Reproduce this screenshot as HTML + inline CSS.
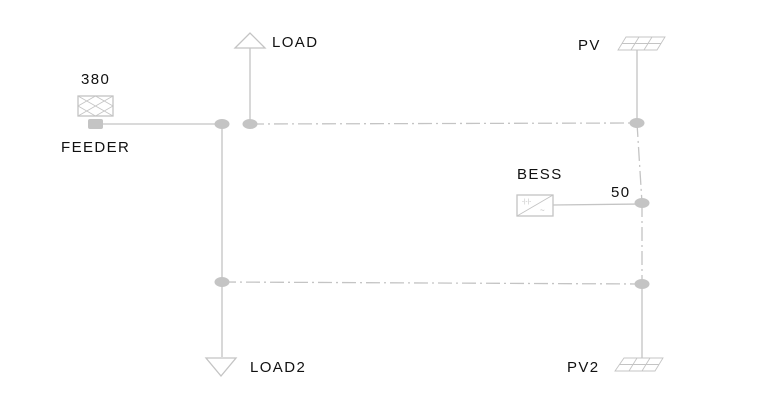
<!DOCTYPE html>
<html><head><meta charset="utf-8"><style>
html,body{margin:0;padding:0;background:#fff;}
svg{display:block;}
text{font-family:"Liberation Sans",sans-serif;font-size:15px;letter-spacing:1.4px;fill:#111;}
</style></head><body>
<svg width="758" height="410" viewBox="0 0 758 410" xmlns="http://www.w3.org/2000/svg">
<g stroke="#c4c4c4" stroke-width="1.3" fill="none">
  <rect x="78" y="96" width="35" height="20"/>
  <path d="M78 96 L113 116 M113 96 L78 116 M78 106 L95.5 96 L113 106 L95.5 116 Z" stroke-width="0.8"/>
  <line x1="103" y1="124" x2="222" y2="124"/>
  <line x1="222" y1="124" x2="222" y2="282"/>
  <line x1="222" y1="282" x2="222" y2="357"/>
  <line x1="250" y1="124" x2="250" y2="48"/>
  <path d="M235 48 L250 33 L265 48 Z" fill="#fff"/>
  <path d="M206 358 L236 358 L221 376 Z" fill="#fff"/>
  <g stroke-dasharray="14,4,2,4">
    <line x1="250" y1="124" x2="637" y2="123"/>
    <line x1="637" y1="123" x2="642" y2="203"/>
    <line x1="642" y1="203" x2="642" y2="284"/>
    <line x1="222" y1="282" x2="642" y2="284"/>
  </g>
  <line x1="637" y1="123" x2="637" y2="50"/>
  <path d="M626 37 L665 37 L657 50 L618 50 Z M622 43.5 L661 43.5 M639 37 L631 50 M652 37 L644 50" stroke-width="0.9"/>
  <line x1="642" y1="284" x2="642" y2="358"/>
  <path d="M624 358 L663 358 L655 371 L615 371 Z M619.5 364.5 L659 364.5 M637 358 L629 371 M650 358 L642 371" stroke-width="0.9"/>
  <rect x="517" y="195" width="36" height="21"/>
  <path d="M517 216 L553 195" stroke-width="0.9"/>
  <line x1="553" y1="205" x2="642" y2="204"/>
</g>
<text x="522" y="203" style="font-size:6px;letter-spacing:0;fill:#bbb">-|-|-</text>
<text x="540" y="213" style="font-size:8px;letter-spacing:0;fill:#bbb">~</text>
<g fill="#c4c4c4">
  <rect x="88" y="119" width="15" height="10" rx="2"/>
  <ellipse cx="222" cy="124" rx="7.5" ry="5"/>
  <ellipse cx="250" cy="124" rx="7.5" ry="5"/>
  <ellipse cx="637" cy="123" rx="7.5" ry="5"/>
  <ellipse cx="642" cy="203" rx="7.5" ry="5"/>
  <ellipse cx="222" cy="282" rx="7.5" ry="5"/>
  <ellipse cx="642" cy="284" rx="7.5" ry="5"/>
</g>
<text x="81" y="84">380</text>
<text x="61" y="152">FEEDER</text>
<text x="272" y="47">LOAD</text>
<text x="250" y="372">LOAD2</text>
<text x="578" y="50">PV</text>
<text x="567" y="372">PV2</text>
<text x="517" y="179">BESS</text>
<text x="611" y="197">50</text>
</svg>
</body></html>
